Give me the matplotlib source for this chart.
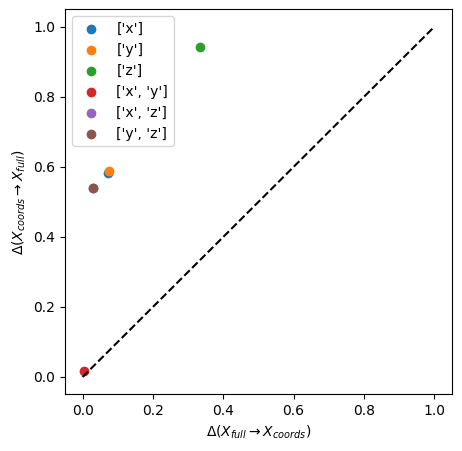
import matplotlib
matplotlib.use("Agg")
import matplotlib.pyplot as plt

# coordinate subsets and their deltas
subsets = [['x'], ['y'], ['z'], ['x', 'y'], ['x', 'z'], ['y', 'z']]
delta_full_to_coords = [0.072, 0.075, 0.335, 0.004, 0.030, 0.030]
delta_coords_to_full = [0.584, 0.589, 0.944, 0.018, 0.539, 0.541]

fig = plt.figure(figsize=(4.62, 4.51), dpi=100)
ax = fig.add_axes([0.1407, 0.1253, 0.837, 0.8537])

for s, dx, dy in zip(subsets, delta_full_to_coords, delta_coords_to_full):
    ax.scatter(dx, dy, label=str(s))

ax.plot([0, 1], [0, 1], 'k--')
ax.set_xlabel(r'$\Delta(X_{full} \rightarrow X_{coords})$')
ax.set_ylabel(r'$\Delta(X_{coords} \rightarrow X_{full})$')
ax.legend(loc='upper left')

fig.savefig("out.png", dpi=100)
